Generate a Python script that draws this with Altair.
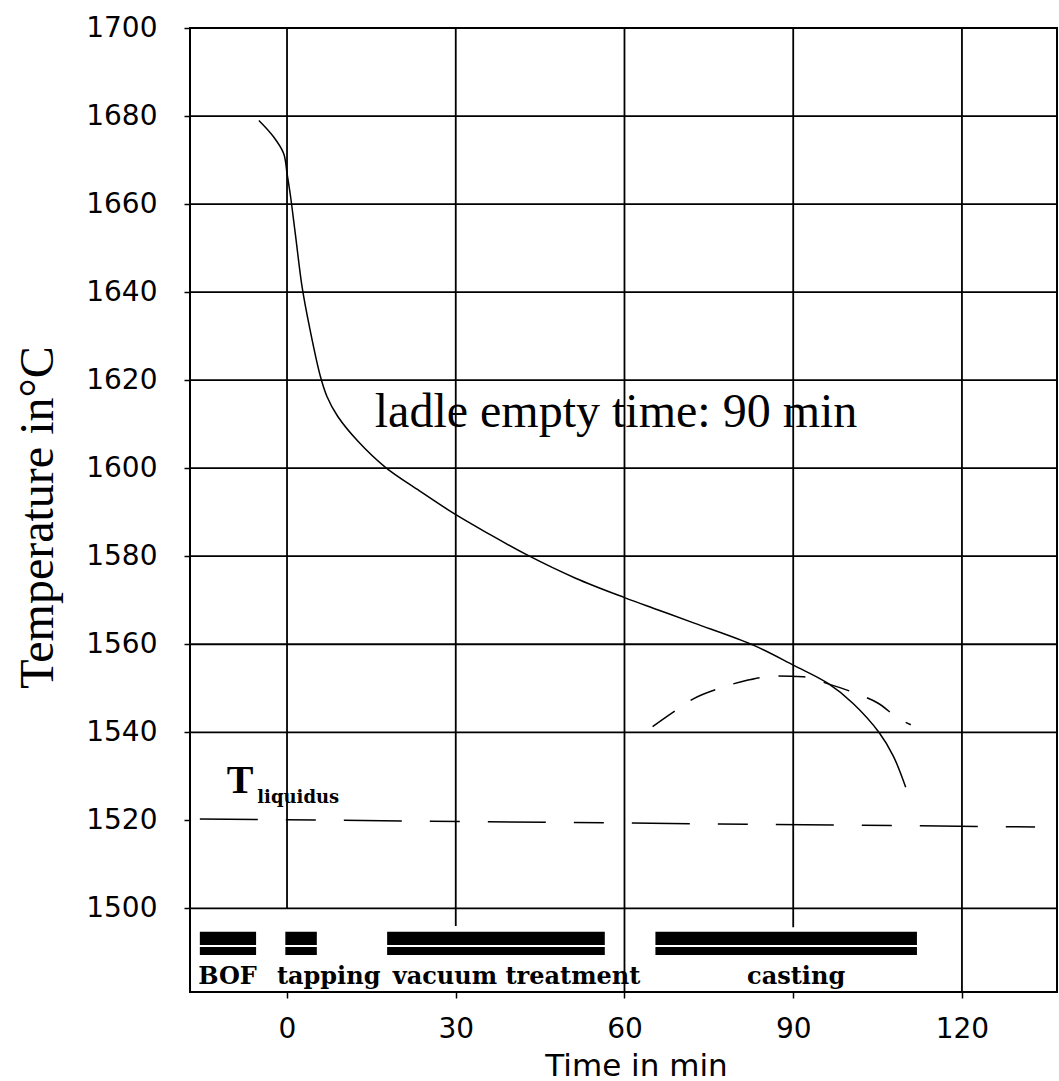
import altair as alt
import pandas as pd

# ---- data ----
# solid temperature curve (time in min, temperature in °C)
t_solid = [-5.0, -2.4, -0.6, 0.0, 0.6, 1.5, 2.7, 4.1, 5.9, 7.1, 9.0, 12.7, 17.5, 23.5, 29.8,
           35.7, 42.5, 51.3, 60.0, 66.0, 72.4, 82.9, 90.1, 96.2, 100.6, 105.3, 107.8, 110.0]
T_solid = [1679.0, 1675.3, 1671.5, 1667.0, 1662.0, 1653.0, 1641.0, 1631.4, 1621.0, 1616.3,
           1611.8, 1606.0, 1600.2, 1594.9, 1589.6, 1585.2, 1580.4, 1575.0, 1570.6, 1567.8,
           1564.8, 1559.8, 1555.2, 1551.1, 1546.6, 1539.9, 1534.6, 1527.5]

# dashed curve
t_dash = [65.0, 68.8, 72.4, 76.9, 81.8, 86.8, 91.8, 96.2, 101.2, 105.1, 109.0, 110.9]
T_dash = [1541.3, 1544.7, 1547.7, 1550.0, 1551.8, 1552.8, 1552.6, 1551.0, 1548.8, 1546.6,
          1542.9, 1541.7]

# liquidus line
t_liq = [-15.5, 133.0]
T_liq = [1520.3, 1518.5]

# process phases (bars)
phase_names = ["BOF", "tapping", "vacuum treatment", "casting"]
phase_start = [-15.5, -0.3, 17.8, 65.5]
phase_end = [-5.5, 5.3, 56.5, 112.0]
band_top = [1494.7, 1491.2]
band_bottom = [1491.7, 1489.4]
label_t = [-15.8, -1.8, 18.8, 81.8]
label_T = 1482.9

# grid lines
grid_x = [0, 30, 60, 90, 120]
grid_bottom = [1500.0, 1496.0, 1481.0, 1495.7, 1481.0]
grid_y = [1500, 1540, 1560, 1580, 1600, 1620, 1640, 1660, 1680, 1700]

x_ticks = [0, 30, 60, 90, 120]
y_ticks = list(range(1500, 1701, 20))

# annotations
ann_text = "ladle empty time: 90 min"
ann_t, ann_T = 15.6, 1609.3
tl_t, tl_T = -10.7, 1526.1
sub_t, sub_T = -5.3, 1523.9

# ---- build tables ----
df_solid = pd.DataFrame({"t": t_solid, "T": T_solid})
df_dash = pd.DataFrame({"t": t_dash, "T": T_dash})
df_liq = pd.DataFrame({"t": t_liq, "T": T_liq})
rows = []
for s, e in zip(phase_start, phase_end):
    for top, bot in zip(band_top, band_bottom):
        rows.append({"t": s, "t2": e, "T": bot, "T2": top})
df_bars = pd.DataFrame(rows)
df_labels = pd.DataFrame({"t": label_t, "T": [label_T] * 4, "label": phase_names})
df_vgrid = pd.DataFrame({"t": grid_x, "T": [1700.0] * 5, "T2": grid_bottom})
df_hgrid = pd.DataFrame({"T": grid_y})
df_ann = pd.DataFrame({"t": [ann_t], "T": [ann_T], "label": [ann_text]})
df_tl = pd.DataFrame({"t": [tl_t], "T": [tl_T], "label": ["T"]})
df_sub = pd.DataFrame({"t": [sub_t], "T": [sub_T], "label": ["liquidus"]})

xs = alt.Scale(domain=[-17.25, 136.9], nice=False, zero=False)
ys = alt.Scale(domain=[1481, 1700], nice=False, zero=False)

xaxis = alt.Axis(values=x_ticks, grid=False, domain=False, ticks=True, tickSize=6,
                 tickColor="black", tickWidth=1.5, labelFont="DejaVu Sans",
                 labelFontSize=28, labelColor="black", labelPadding=17,
                 labelBaseline="top", title="Time in min", titleFont="DejaVu Sans",
                 titleFontSize=31, titleFontWeight="normal", titleColor="black",
                 titleX=446, titleY=83, titleBaseline="alphabetic", titleAlign="center")
yaxis = alt.Axis(values=y_ticks, format="d", grid=False, domain=False, ticks=True,
                 tickSize=6, tickColor="black", tickWidth=1.5, labelFont="DejaVu Sans",
                 labelFontSize=28, labelColor="black", labelPadding=27,
                 title="Temperature in°C", titleFont="Liberation Serif", titleFontSize=48,
                 titleFontWeight="normal", titleColor="black", titleX=-152, titleY=489,
                 titleBaseline="middle", titleAlign="center", titleAngle=-90)


def X(f="t"):
    return alt.X(f, type="quantitative", scale=xs, axis=xaxis)


def Y(f="T"):
    return alt.Y(f, type="quantitative", scale=ys, axis=yaxis)


vgrid = alt.Chart(df_vgrid).mark_rule(color="black", strokeWidth=1.8).encode(
    x=X(), y=Y(), y2="T2")

hgrid = alt.Chart(df_hgrid).mark_rule(color="black", strokeWidth=1.8).encode(y=Y())

solid = alt.Chart(df_solid).mark_line(color="black", strokeWidth=1.5,
                                      interpolate="catmull-rom").encode(x=X(), y=Y())

dash = alt.Chart(df_dash).mark_line(color="black", strokeWidth=1.5,
                                    interpolate="monotone",
                                    strokeDash=[27, 19]).encode(x=X(), y=Y())

liq = alt.Chart(df_liq).mark_line(color="black", strokeWidth=1.5,
                                  strokeDash=[58, 28, 30, 28]).encode(x=X(), y=Y())

bars = alt.Chart(df_bars).mark_rect(color="black").encode(
    x=X(), x2="t2", y=Y(), y2="T2")

labels = alt.Chart(df_labels).mark_text(
    font="DejaVu Serif", fontWeight="bold", fontSize=24, align="left",
    baseline="alphabetic", color="black").encode(x=X(), y=Y(), text="label")

ann = alt.Chart(df_ann).mark_text(
    font="Liberation Serif", fontSize=48, align="left", baseline="alphabetic",
    color="black").encode(x=X(), y=Y(), text="label")

tl = alt.Chart(df_tl).mark_text(
    font="Liberation Serif", fontWeight="bold", fontSize=40, align="left",
    baseline="alphabetic", color="black").encode(x=X(), y=Y(), text="label")

sub = alt.Chart(df_sub).mark_text(
    font="DejaVu Serif", fontWeight="bold", fontSize=18, align="left",
    baseline="alphabetic", color="black").encode(x=X(), y=Y(), text="label")

chart = alt.layer(hgrid, vgrid, liq, dash, solid, bars, labels, ann, tl, sub).properties(
    width=867, height=964,
    padding={"left": 190, "top": 28, "right": 2, "bottom": 89},
    autosize=alt.AutoSizeParams(type="none"),
    background="white",
).configure_view(stroke="black", strokeWidth=2)

chart.save("out.html", embed_options={"renderer": "svg", "actions": False})
